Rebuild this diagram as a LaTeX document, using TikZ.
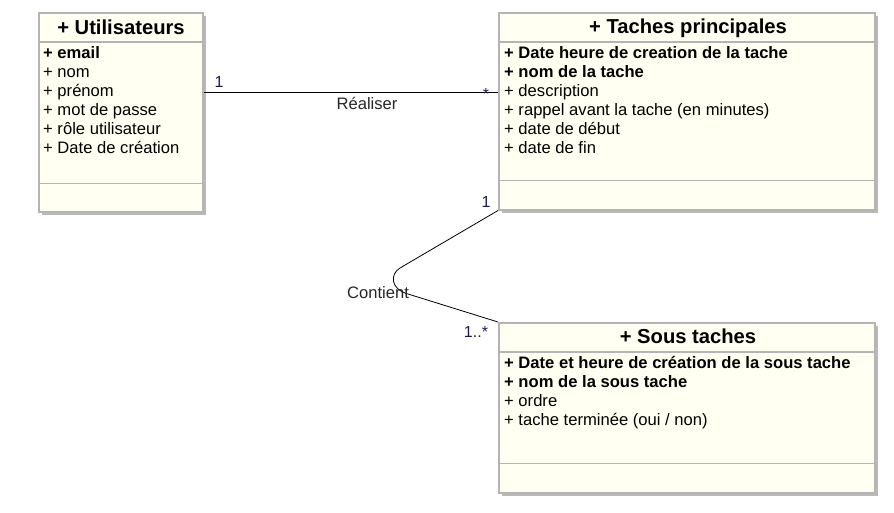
\documentclass[tikz,border=0pt]{standalone}
\usepackage{fontspec}
\setmainfont{Liberation Sans}
\usetikzlibrary{shadows}
\definecolor{boxfill}{HTML}{FFFFF2}
\definecolor{boxline}{HTML}{B4B4B4}
\definecolor{mult}{HTML}{1C1C50}
\tikzset{
 classbox/.style={draw=boxline, line width=1.5pt, fill=boxfill, anchor=north west, inner sep=0pt,
   drop shadow={shadow xshift=3pt, shadow yshift=-3.5pt, fill=black!55, opacity=0.5}},
 sepline/.style={draw=boxline, line width=1.5pt},
 ctitle/.style={font=\fontsize{20.2}{24}\selectfont\bfseries, anchor=base, inner sep=0pt},
 attr/.style={font=\fontsize{16.6}{19}\selectfont, anchor=base west, inner sep=0pt},
 battr/.style={attr, font=\fontsize{16.6}{19}\selectfont\bfseries},
 mlabel/.style={font=\fontsize{16}{18}\selectfont, text=mult, inner sep=0pt, anchor=base},
 alabel/.style={font=\fontsize{16.6}{19}\selectfont, text=black!85, inner sep=0pt, anchor=base},
 conn/.style={draw=black, line width=0.8pt}
}
\begin{document}
\begin{tikzpicture}[x=1pt,y=-1pt]
\useasboundingbox (0,0) rectangle (894,512);

% ---- Utilisateurs
\node[classbox, minimum width=164pt, minimum height=199pt] (u) at (38,12) {};
\draw[sepline] ([yshift=-30pt]u.north west) -- ([yshift=-30pt]u.north east);
\draw[sepline] ([yshift=29pt]u.south west) -- ([yshift=29pt]u.south east);
\node[ctitle] (ut) at (121,34) {+ Utilisateurs};
\node[battr] (u1) at (43,58) {+ email};
\node[attr] (u2) at (43,77) {+ nom};
\node[attr] (u3) at (43,96) {+ prénom};
\node[attr] (u4) at (43,115) {+ mot de passe};
\node[attr] (u5) at (43,134) {+ rôle utilisateur};
\node[attr] (u6) at (43,153) {+ Date de création};

% ---- Taches principales
\node[classbox, minimum width=376pt, minimum height=197pt] (tp) at (498,12) {};
\draw[sepline] ([yshift=-30pt]tp.north west) -- ([yshift=-30pt]tp.north east);
\draw[sepline] ([yshift=30pt]tp.south west) -- ([yshift=30pt]tp.south east);
\node[ctitle] (tpt) at (688,33) {+ Taches principales};
\node[battr] (t1) at (504,58) {+ Date heure de creation de la tache};
\node[battr] (t2) at (504,77) {+ nom de la tache};
\node[attr] (t3) at (504,96) {+ description};
\node[attr] (t4) at (504,115) {+ rappel avant la tache (en minutes)};
\node[attr] (t5) at (504,134) {+ date de début};
\node[attr] (t6) at (504,153) {+ date de fin};

% ---- Sous taches
\node[classbox, minimum width=376pt, minimum height=170pt] (st) at (498,322) {};
\draw[sepline] ([yshift=-30pt]st.north west) -- ([yshift=-30pt]st.north east);
\draw[sepline] ([yshift=30pt]st.south west) -- ([yshift=30pt]st.south east);
\node[ctitle] (stt) at (688,343) {+ Sous taches};
\node[battr] (s1) at (504,368) {+ Date et heure de création de la sous tache};
\node[battr] (s2) at (504,387) {+ nom de la sous tache};
\node[attr] (s3) at (504,406) {+ ordre};
\node[attr] (s4) at (504,425) {+ tache terminée (oui / non)};

% ---- Realiser
\coordinate (ry) at (0,92);
\draw[conn] (u.east |- ry) -- (tp.west |- ry);
\node[mlabel] (m1) at (219,87) {1};
\node[mlabel] (m2) at (486,99) {*};
\node[alabel] (rl) at (367,109) {Réaliser};

% ---- Contient
\coordinate (c1) at (400,268);
\coordinate (c2) at (408,294);
\draw[conn] (tp.south west) -- (c1) .. controls (390,274) and (390,289) .. (c2) -- (st.north west);
\node[mlabel] (m3) at (486,207) {1};
\node[alabel] (cl) at (378,298) {Contient};
\node[mlabel] (m4) at (476,337) {1..*};
\end{tikzpicture}
\end{document}
